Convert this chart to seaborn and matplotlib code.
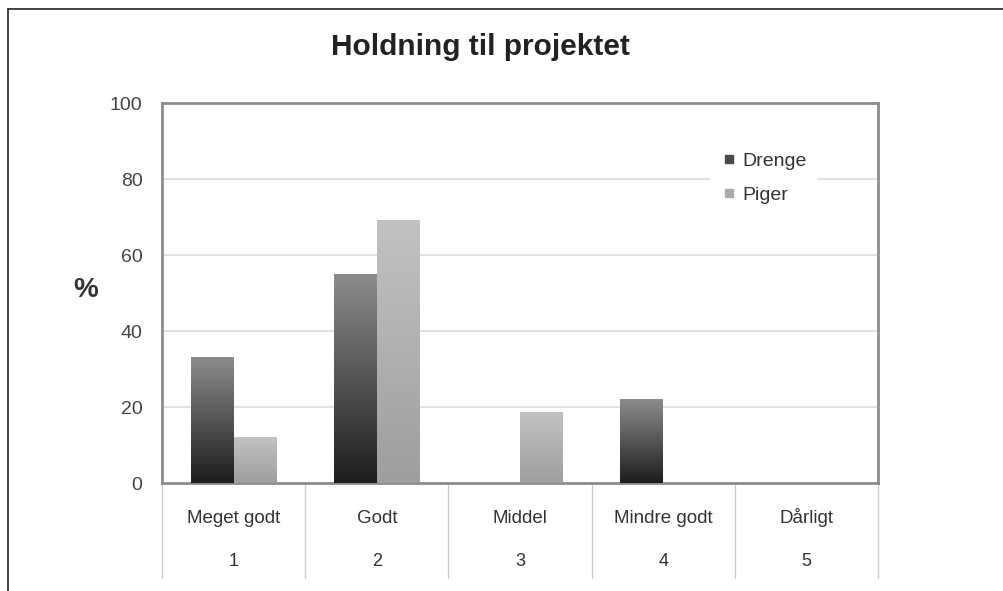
import numpy as np
import pandas as pd
import matplotlib
matplotlib.use("Agg")
import matplotlib.pyplot as plt
import seaborn as sns
from matplotlib.colors import LinearSegmentedColormap
from matplotlib.lines import Line2D
import matplotlib.transforms as mtransforms

categories = ["Meget godt", "Godt", "Middel", "Mindre godt", "Dårligt"]
numbers = ["1", "2", "3", "4", "5"]
drenge = [33, 55, 0, 22, 0]
piger = [12, 69, 18.5, 0, 0]
series = ["Drenge", "Piger"]
yticks = [0, 20, 40, 60, 80, 100]

df = pd.DataFrame({
    "cat": categories * 2,
    "val": drenge + piger,
    "serie": ["Drenge"] * len(categories) + ["Piger"] * len(categories),
})

sns.set_theme(style="white")
plt.rcParams["font.family"] = ["Liberation Sans", "DejaVu Sans"]

fig = plt.figure(figsize=(10.04, 5.91), dpi=100)
ax = fig.add_axes([162/1004, 108/591, 716/1004, 380/591])

sns.barplot(data=df, x="cat", y="val", hue="serie", order=categories,
            hue_order=series, width=0.6, ax=ax, legend=False,
            palette=["#555555", "#aaaaaa"], linewidth=0, saturation=1)

ax.set_ylim(0, 100)
ax.set_xlim(-0.5, 4.5)
ax.set_yticks(yticks)
ax.set_yticklabels([str(t) for t in yticks], fontsize=14, color="#444444")
ax.tick_params(axis="y", length=0, pad=14)
ax.set_xticks([])
ax.set_xlabel("")
ax.set_ylabel("")
for y in yticks[1:-1]:
    ax.axhline(y, color="#dddddd", lw=1.2, zorder=0)
for s in ax.spines.values():
    s.set_color("#8c8c8c")
    s.set_linewidth(2)

# gradients
cmap_d = LinearSegmentedColormap.from_list("d", ["#1e1c1e", "#8c8c8f"])
cmap_p = LinearSegmentedColormap.from_list("p", ["#9e9ea1", "#c2c2c5"])
grad = np.linspace(0, 1, 256).reshape(-1, 1)
patches = list(ax.patches)
n = len(categories)
for i, p in enumerate(patches):
    h = p.get_height()
    if h <= 0:
        p.set_visible(False)
        continue
    x0 = p.get_x(); w = p.get_width()
    cmap = cmap_d if i < n else cmap_p
    ax.imshow(grad, extent=[x0, x0 + w, 0, h], origin="lower", aspect="auto",
              cmap=cmap, zorder=3)
    p.set_visible(False)
ax.set_xlim(-0.5, 4.5)
ax.set_ylim(0, 100)

# category table below axis
trans = mtransforms.blended_transform_factory(ax.transData, ax.transAxes)
for b in np.arange(-0.5, 5.0, 1.0):
    ax.plot([b, b], [0, -95/380], transform=trans, color="#cccccc", lw=1,
            clip_on=False)
for i, (c, nmb) in enumerate(zip(categories, numbers)):
    ax.text(i, -40/380, c, transform=trans, ha="center", va="baseline",
            fontsize=13.5, color="#333333")
    ax.text(i, -83/380, nmb, transform=trans, ha="center", va="baseline",
            fontsize=13, color="#333333")

# legend
handles = [Line2D([], [], marker="s", ls="", color="#4a4a4a", markersize=6),
           Line2D([], [], marker="s", ls="", color="#aaaaaa", markersize=6)]
leg = ax.legend(handles, series, loc="upper left",
                bbox_to_anchor=((700-162)/716, 1-(133-103)/380),
                fontsize=14, frameon=True, labelspacing=0.85, handletextpad=0.2,
                handlelength=1.0, borderpad=0.5)
leg.get_frame().set_facecolor("white")
leg.get_frame().set_edgecolor("none")
leg.get_frame().set_alpha(1)
for t in leg.get_texts():
    t.set_color("#333333")
leg.set_zorder(5)

fig.text(480/1004, 1-47/591, "Holdning til projektet", ha="center", va="center",
         fontsize=21.5, fontweight="bold", color="#222222")
fig.text(86/1004, 1-290/591, "%", ha="center", va="center", fontsize=20,
         fontweight="bold", color="#333333")

# page frame lines
fig.add_artist(Line2D([8/1004, 8/1004], [0, 1-9/591], color="#222222", lw=1.2,
                      transform=fig.transFigure))
fig.add_artist(Line2D([8/1004, 1], [1-9/591, 1-9/591], color="#222222", lw=1.2,
                      transform=fig.transFigure))

fig.savefig("out.png", dpi=100, facecolor="white")
